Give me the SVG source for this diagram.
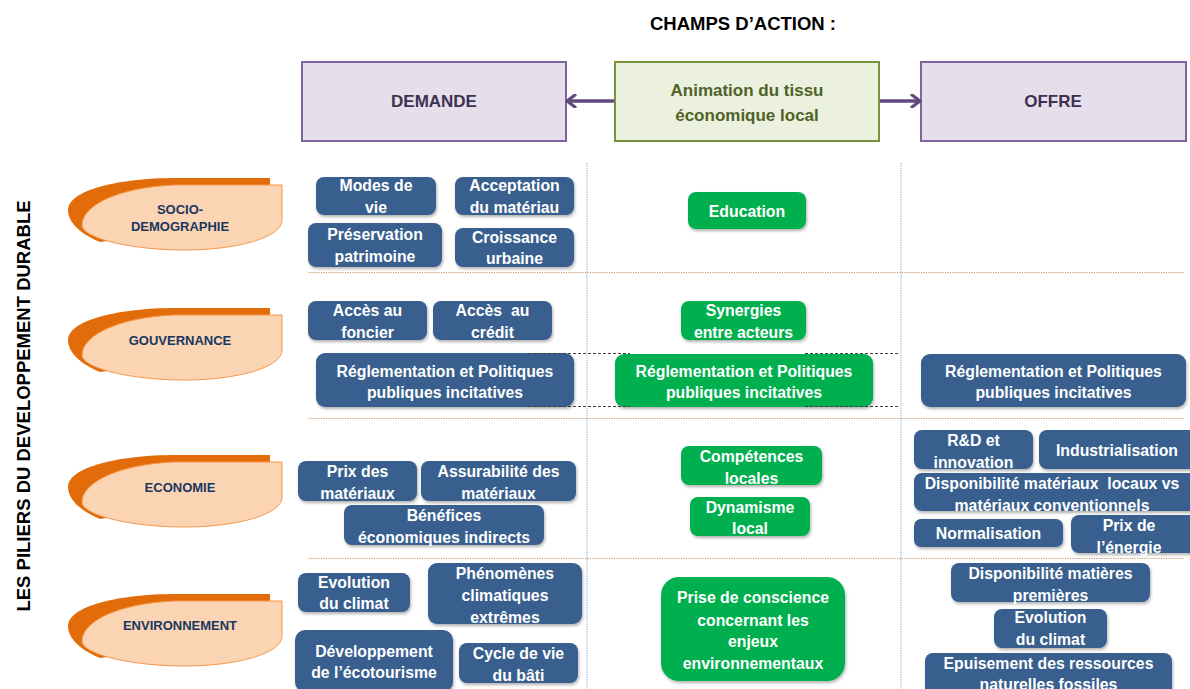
<svg xmlns="http://www.w3.org/2000/svg" width="1190" height="689" viewBox="0 0 1190 689">
<defs>
<filter id="sh" x="-10%" y="-10%" width="125%" height="140%">
<feDropShadow dx="1" dy="2" stdDeviation="1.5" flood-color="#000" flood-opacity="0.3"/>
</filter>
<marker id="chev" viewBox="0 0 12 14" refX="10" refY="7" markerWidth="12" markerHeight="14" markerUnits="userSpaceOnUse" orient="auto-start-reverse">
<path d="M2,1 L10,7 L2,13" fill="none" stroke="#604A7B" stroke-width="3.2" stroke-linecap="round" stroke-linejoin="round"/>
</marker>
</defs>
<style>
.blue{fill:#385E8E;filter:url(#sh)}
.green{fill:#00B050;filter:url(#sh)}
.bt{font-family:"Liberation Sans",Arial,sans-serif;font-weight:bold;font-size:15.8px;fill:#fff;text-anchor:middle}
.hd{font-family:"Liberation Sans",Arial,sans-serif;font-weight:bold;text-anchor:middle}
.pt{font-family:"Liberation Sans",Arial,sans-serif;font-weight:bold;font-size:13px;fill:#17375E;text-anchor:middle}
.dark{fill:#E36C0A}
.light{fill:#FBD4B4;stroke:#F79646;stroke-width:1}
.vg{stroke:#95B3D7;stroke-width:1.2;stroke-dasharray:1.2 1.2;fill:none}
.hg{stroke:#C8946A;stroke-width:1.2;stroke-dasharray:1.2 1.2;fill:none}
.dl{stroke:#404040;stroke-width:1;stroke-dasharray:3 2;fill:none}
</style>
<rect width="1190" height="689" fill="#fff"/>

<text class="hd" x="743" y="30" font-size="18.5" fill="#000">CHAMPS D’ACTION :</text>
<text class="hd" font-size="18.5" fill="#000" transform="translate(30,406) rotate(-90)">LES PILIERS DU DEVELOPPEMENT DURABLE</text>

<g id="grid">
<line class="vg" x1="587" y1="163" x2="587" y2="689"/>
<line class="vg" x1="901" y1="163" x2="901" y2="689"/>
<line class="hg" x1="309" y1="272.5" x2="1185" y2="272.5"/>
<line class="hg" x1="309" y1="418.5" x2="1185" y2="418.5"/>
<line class="hg" x1="309" y1="558.5" x2="1185" y2="558.5"/>
</g>

<g id="demande">
<rect x="302" y="62" width="264" height="79" fill="#E5DFEC" stroke="#8064A2" stroke-width="2"/>
<text class="hd" x="434" y="107" font-size="17" fill="#3F3151">DEMANDE</text>
</g>
<g id="animation">
<rect x="615" y="62" width="264" height="79" fill="#EBF1DE" stroke="#77933C" stroke-width="2"/>
<text class="hd" x="747" y="96" font-size="17" fill="#4F6228">Animation du tissu</text>
<text class="hd" x="747" y="121" font-size="17" fill="#4F6228">économique local</text>
</g>
<g id="offre">
<rect x="921" y="62" width="265" height="79" fill="#E5DFEC" stroke="#8064A2" stroke-width="2"/>
<text class="hd" x="1053" y="107" font-size="17" fill="#3F3151">OFFRE</text>
</g>

<g id="pilier-socio">
<path class="dark" d="M270,178 L270,218 L100,242 C80,234 68,222 68,210 C68,190 120,178 175,178 Z"/>
<path class="light" d="M282,185 L282,220 C282,238 235,250 185,250 C130,250 82,238 82,225 C82,205 120,187 175,185 Z"/>
<text class="pt" x="180" y="214">SOCIO-</text>
<text class="pt" x="180" y="231">DEMOGRAPHIE</text>
</g>
<g id="pilier-gouvernance">
<path class="dark" d="M270,308 L270,348 L100,372 C80,364 68,352 68,340 C68,320 120,308 175,308 Z"/>
<path class="light" d="M282,315 L282,350 C282,368 235,380 185,380 C130,380 82,368 82,355 C82,335 120,317 175,315 Z"/>
<text class="pt" x="180" y="345">GOUVERNANCE</text>
</g>
<g id="pilier-economie">
<path class="dark" d="M270,455 L270,495 L100,519 C80,511 68,499 68,487 C68,467 120,455 175,455 Z"/>
<path class="light" d="M282,462 L282,497 C282,515 235,527 185,527 C130,527 82,515 82,502 C82,482 120,464 175,462 Z"/>
<text class="pt" x="180" y="492">ECONOMIE</text>
</g>
<g id="pilier-environnement">
<path class="dark" d="M270,594 L270,634 L100,658 C80,650 68,638 68,626 C68,606 120,594 175,594 Z"/>
<path class="light" d="M282,601 L282,636 C282,654 235,666 185,666 C130,666 82,654 82,641 C82,621 120,603 175,601 Z"/>
<text class="pt" x="180" y="630">ENVIRONNEMENT</text>
</g>

<g id="modes-de-vie"><rect class="blue" x="316" y="177" width="120" height="38" rx="8"/><text class="bt" x="376" y="191">Modes de</text><text class="bt" x="376" y="213">vie</text></g>
<g id="acceptation"><rect class="blue" x="455" y="177" width="119" height="38" rx="8"/><text class="bt" x="514.5" y="191">Acceptation</text><text class="bt" x="514.5" y="213">du matériau</text></g>
<g id="preservation"><rect class="blue" x="308" y="223" width="134" height="44" rx="8"/><text class="bt" x="375" y="240">Préservation</text><text class="bt" x="375" y="262">patrimoine</text></g>
<g id="croissance"><rect class="blue" x="455" y="228" width="119" height="39" rx="8"/><text class="bt" x="514.5" y="243">Croissance</text><text class="bt" x="514.5" y="264">urbaine</text></g>
<g id="acces-foncier"><rect class="blue" x="308" y="301" width="119" height="39" rx="8"/><text class="bt" x="367.5" y="316">Accès au</text><text class="bt" x="367.5" y="338">foncier</text></g>
<g id="acces-credit"><rect class="blue" x="433" y="301" width="119" height="39" rx="8"/><text class="bt" x="492.5" y="316">Accès&#160; au</text><text class="bt" x="492.5" y="338">crédit</text></g>
<g id="reglementation-demande"><rect class="blue" x="316" y="353" width="258" height="54" rx="9"/><text class="bt" x="445" y="377">Réglementation et Politiques</text><text class="bt" x="445" y="398">publiques incitatives</text></g>

<g id="education"><rect class="green" x="688" y="192" width="118" height="37" rx="8"/><text class="bt" x="747" y="217">Education</text></g>
<g id="synergies"><rect class="green" x="681" y="301" width="125" height="39" rx="8"/><text class="bt" x="743.5" y="316">Synergies</text><text class="bt" x="743.5" y="338">entre acteurs</text></g>
<g id="reglementation-animation"><rect class="green" x="615" y="354" width="258" height="53" rx="9"/><text class="bt" x="744" y="377">Réglementation et Politiques</text><text class="bt" x="744" y="398">publiques incitatives</text></g>
<g id="competences"><rect class="green" x="681" y="446" width="141" height="39" rx="8"/><text class="bt" x="751.5" y="462">Compétences</text><text class="bt" x="751.5" y="484">locales</text></g>
<g id="dynamisme"><rect class="green" x="690" y="497" width="120" height="39" rx="8"/><text class="bt" x="750" y="513">Dynamisme</text><text class="bt" x="750" y="534">local</text></g>
<g id="prise-conscience"><rect class="green" x="661" y="577" width="184" height="104" rx="18"/><text class="bt" x="753" y="603">Prise de conscience</text><text class="bt" x="753" y="626">concernant les</text><text class="bt" x="753" y="647">enjeux</text><text class="bt" x="753" y="669">environnementaux</text></g>

<g id="reglementation-offre"><rect class="blue" x="921" y="354" width="265" height="53" rx="9"/><text class="bt" x="1053.5" y="377">Réglementation et Politiques</text><text class="bt" x="1053.5" y="398">publiques incitatives</text></g>
<g id="rd"><rect class="blue" x="914" y="430" width="119" height="39" rx="8"/><text class="bt" x="973.5" y="446">R&amp;D et</text><text class="bt" x="973.5" y="468">innovation</text></g>
<g id="industrialisation"><rect class="blue" x="1039" y="430" width="160" height="39" rx="8"/><text class="bt" x="1117" y="456">Industrialisation</text></g>
<g id="disponibilite-materiaux"><rect class="blue" x="914" y="473" width="285" height="38" rx="8"/><text class="bt" x="1052" y="489">Disponibilité matériaux&#160; locaux vs</text><text class="bt" x="1052" y="511">matériaux conventionnels</text></g>
<g id="normalisation"><rect class="blue" x="914" y="519" width="149" height="28" rx="7"/><text class="bt" x="988.5" y="539">Normalisation</text></g>
<g id="prix-energie"><rect class="blue" x="1071" y="515" width="130" height="38" rx="8"/><text class="bt" x="1129" y="531">Prix de</text><text class="bt" x="1129" y="553">l’énergie</text></g>
<g id="disponibilite-matieres"><rect class="blue" x="951" y="563" width="199" height="39" rx="8"/><text class="bt" x="1050.5" y="579">Disponibilité matières</text><text class="bt" x="1050.5" y="601">premières</text></g>
<g id="evolution-climat-offre"><rect class="blue" x="994" y="609" width="113" height="39" rx="8"/><text class="bt" x="1050.5" y="623">Evolution</text><text class="bt" x="1050.5" y="645">du climat</text></g>
<g id="epuisement"><rect class="blue" x="925" y="653" width="247" height="45" rx="8"/><text class="bt" x="1048.5" y="669">Epuisement des ressources</text><text class="bt" x="1048.5" y="690">naturelles fossiles</text></g>

<g id="prix-materiaux"><rect class="blue" x="298" y="461" width="119" height="40" rx="8"/><text class="bt" x="357.5" y="477">Prix des</text><text class="bt" x="357.5" y="499">matériaux</text></g>
<g id="assurabilite"><rect class="blue" x="421" y="461" width="155" height="40" rx="8"/><text class="bt" x="498.5" y="477">Assurabilité des</text><text class="bt" x="498.5" y="499">matériaux</text></g>
<g id="benefices"><rect class="blue" x="344" y="505" width="200" height="40" rx="8"/><text class="bt" x="444" y="521">Bénéfices</text><text class="bt" x="444" y="543">économiques indirects</text></g>
<g id="evolution-climat-demande"><rect class="blue" x="298" y="573" width="112" height="39" rx="8"/><text class="bt" x="354" y="588">Evolution</text><text class="bt" x="354" y="609">du climat</text></g>
<g id="phenomenes"><rect class="blue" x="428" y="563" width="154" height="61" rx="9"/><text class="bt" x="505" y="579">Phénomènes</text><text class="bt" x="505" y="601">climatiques</text><text class="bt" x="505" y="623">extrêmes</text></g>
<g id="ecotourisme"><rect class="blue" x="295" y="630" width="158" height="62" rx="10"/><text class="bt" x="374" y="657">Développement</text><text class="bt" x="374" y="678">de l’écotourisme</text></g>
<g id="cycle-vie"><rect class="blue" x="459" y="643" width="119" height="40" rx="8"/><text class="bt" x="518.5" y="659">Cycle de vie</text><text class="bt" x="518.5" y="681">du bâti</text></g>

<g id="connectors">
<line x1="614" y1="101" x2="567" y2="101" stroke="#604A7B" stroke-width="3.5" marker-end="url(#chev)"/>
<line x1="880" y1="101" x2="920" y2="101" stroke="#604A7B" stroke-width="3.5" marker-end="url(#chev)"/>
<line class="dl" x1="528" y1="353.5" x2="630" y2="353.5"/>
<line class="dl" x1="528" y1="406.5" x2="630" y2="406.5"/>
<line class="dl" x1="805" y1="353.5" x2="898" y2="353.5"/>
<line class="dl" x1="805" y1="406.5" x2="898" y2="406.5"/>
</g>
</svg>
